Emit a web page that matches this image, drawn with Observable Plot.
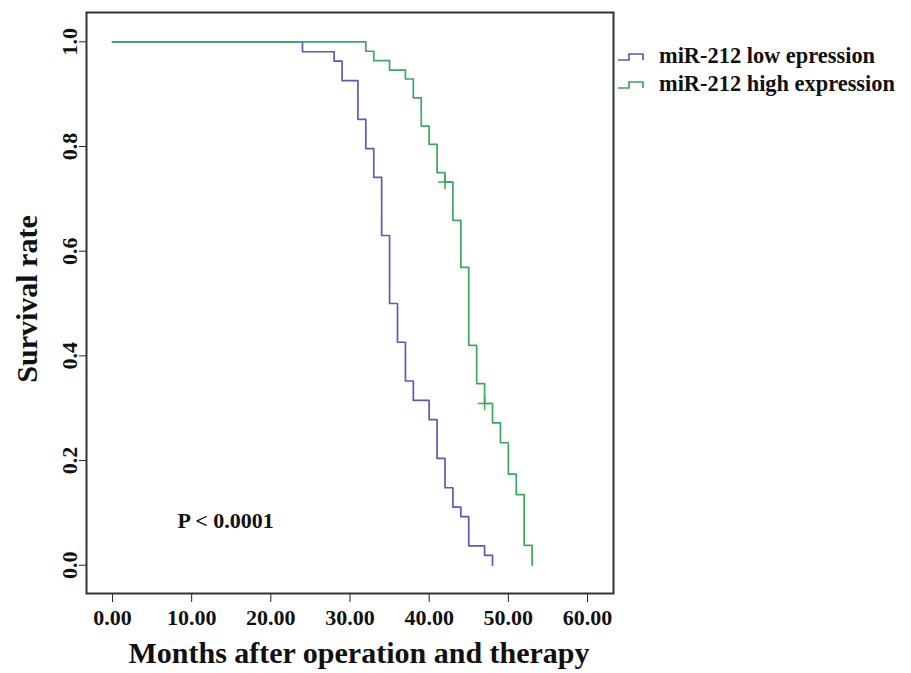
<!DOCTYPE html>
<html>
<head>
<meta charset="utf-8">
<script src="https://cdn.jsdelivr.net/npm/d3@7"></script>
<script src="https://cdn.jsdelivr.net/npm/@observablehq/plot@0.6"></script>
<style>
  html, body { margin: 0; padding: 0; background: #fff; }
  #wrap { position: relative; width: 911px; height: 673px; font-family: "Liberation Serif", "Times New Roman", serif; }
  .leg { position: absolute; left: 617px; font-weight: bold; font-size: 22.4px; color: #111; display: flex; align-items: center; white-space: nowrap; }
  .leg svg { margin-right: 12px; }
</style>
</head>
<body>
<div id="wrap"></div>
<script>
// Series (months, survival rate)
const lowMonths = [0, 24, 28, 29, 31, 32, 33, 34, 35, 36, 37, 38, 40, 41, 42, 43, 44, 45, 47, 48];
const lowSurv   = [1, 0.981, 0.963, 0.926, 0.852, 0.796, 0.741, 0.630, 0.500, 0.426, 0.352, 0.315, 0.278, 0.204, 0.148, 0.111, 0.093, 0.037, 0.019, 0];
const highMonths = [0, 32, 33, 35, 37, 38, 39, 40, 41, 42, 43, 44, 45, 46, 47, 48, 49, 50, 51, 52, 53];
const highSurv   = [1, 0.982, 0.964, 0.946, 0.929, 0.893, 0.839, 0.804, 0.750, 0.732, 0.659, 0.569, 0.420, 0.347, 0.309, 0.272, 0.234, 0.174, 0.135, 0.038, 0];
const censorMonths = [42, 47];
const censorSurv = [0.732, 0.309];
const seriesNames = ["miR-212 low epression", "miR-212 high expression"];
const seriesColors = ["#5a5ab8", "#3aa95e"];
const xTicks = [0, 10, 20, 30, 40, 50, 60];
const yTicks = [0, 0.2, 0.4, 0.6, 0.8, 1.0];
const xLabel = "Months after operation and therapy";
const yLabel = "Survival rate";
const pText = "P < 0.0001";

const low = lowMonths.map((m, i) => ({m, s: lowSurv[i]}));
const high = highMonths.map((m, i) => ({m, s: highSurv[i]}));
const cens = censorMonths.map((m, i) => ({m, s: censorSurv[i]}));

const chart = Plot.plot({
  width: 911,
  height: 673,
  marginLeft: 86,
  marginRight: 298,
  marginTop: 12,
  marginBottom: 80,
  style: {fontFamily: "'Liberation Serif', 'Times New Roman', serif", fontWeight: "bold", color: "#111", background: "#fff"},
  x: {domain: [-3.28, 63.28], ticks: xTicks},
  y: {domain: [-0.054, 1.056], ticks: yTicks},
  marks: [
    Plot.axisX(xTicks, {tickSize: 9, tickPadding: 7, tickFormat: d3.format(".2f"), fontSize: 22, fontWeight: "bold", label: null, stroke: "#222"}),
    Plot.axisY(yTicks, {tickSize: 7, tickPadding: 3, tickFormat: d3.format(".1f"), tickRotate: -90, fontSize: 22, fontWeight: "bold", label: null, stroke: "#222"}),
    Plot.line(low, {x: "m", y: "s", curve: "step-after", stroke: seriesColors[0], strokeWidth: 1.7}),
    Plot.line(high, {x: "m", y: "s", curve: "step-after", stroke: seriesColors[1], strokeWidth: 1.7}),
    Plot.dot(cens, {x: "m", y: "s", symbol: "plus", r: 4.5, stroke: seriesColors[1], strokeWidth: 1.5}),
    Plot.frame({stroke: "#333", strokeWidth: 2}),
    Plot.text([xLabel], {frameAnchor: "bottom", dx: 9, dy: 69, fontSize: 30, fontWeight: "bold", fill: "#111"}),
    Plot.text([yLabel], {frameAnchor: "left", dx: -59, rotate: -90, textAnchor: "middle", dy: -4, fontSize: 30, fontWeight: "bold", fill: "#111"}),
    Plot.text([pText], {frameAnchor: "bottom-left", dx: 91, dy: -66, textAnchor: "start", fontSize: 22, fontWeight: "bold", fill: "#111"})
  ]
});

const wrap = document.getElementById("wrap");
wrap.appendChild(chart);

// legend
const legTops = [56, 84];
seriesNames.forEach((name, i) => {
  const div = document.createElement("div");
  div.className = "leg";
  div.style.top = (legTops[i] - 13) + "px";
  div.style.height = "26px";
  div.innerHTML = `<svg width="30" height="12"><path d="M1,10 H12 V4 H26 V10" fill="none" stroke="${seriesColors[i]}" stroke-width="1.7"/></svg><span>${name}</span>`;
  wrap.appendChild(div);
});
</script>
</body>
</html>
